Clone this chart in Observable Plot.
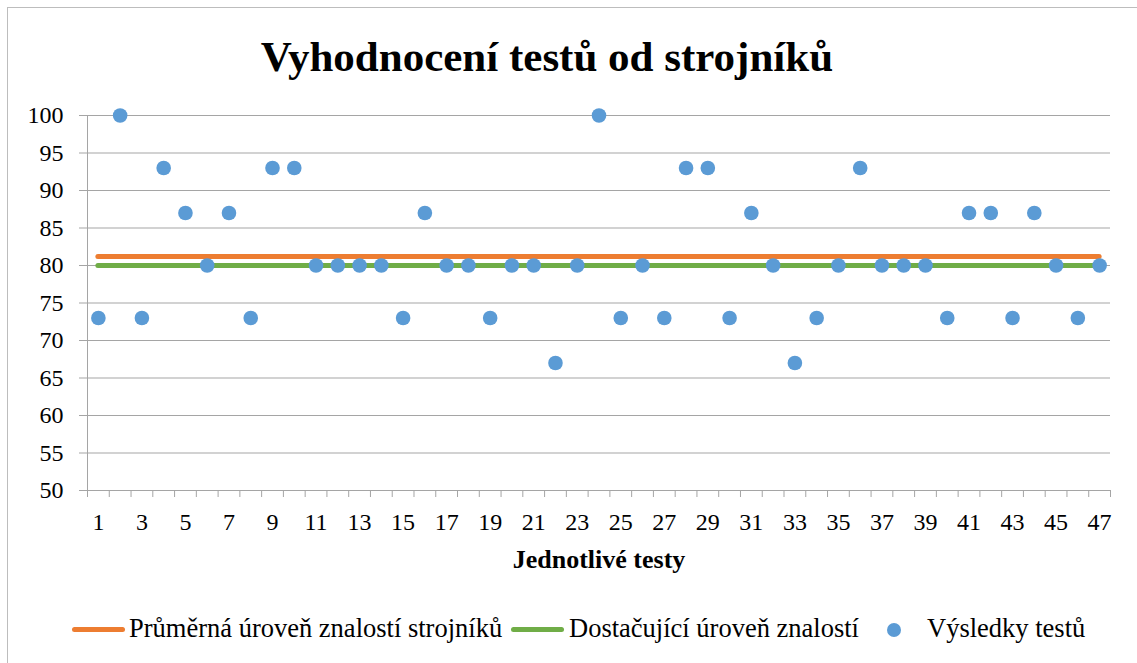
<!DOCTYPE html>
<html>
<head>
<meta charset="utf-8">
<script src="https://cdn.jsdelivr.net/npm/d3@7"></script>
<script src="https://cdn.jsdelivr.net/npm/@observablehq/plot@0.6"></script>
<style>
  html, body { margin: 0; padding: 0; background: #fff; }
  body { font-family: "Liberation Serif", "Times New Roman", serif; color: #000; }
  #wrap { position: relative; width: 1137px; height: 663px; overflow: hidden; }
  #frame { position: absolute; left: 7px; top: 7px; width: 1300px; height: 800px;
           border-left: 1px solid #bdbdbd; border-top: 1px solid #bdbdbd; pointer-events: none; }
  #title { position: relative; height: 95px; box-sizing: border-box; padding-top: 33px; width: 1094px;
           text-align: center; font-weight: bold; font-size: 43px; line-height: 48px; }
  #chart { position: relative; height: 485px; }
  #chart svg { display: block; }
  #chart g[aria-label="x-axis label"] text { font-weight: bold; font-size: 26px; }
  #legend { position: relative; height: 83px; font-size: 26.5px; line-height: 30px; }
  .sw { position: absolute; height: 5px; border-radius: 3px; top: 47px; width: 53px; }
  .dot { position: absolute; width: 14px; height: 14px; border-radius: 50%; top: 43px; }
  .lt { position: absolute; top: 33px; white-space: nowrap; }
</style>
</head>
<body>
<div id="wrap">
  <div id="frame"></div>
  <div id="title"></div>
  <div id="chart"></div>
  <div id="legend"></div>
</div>
<script>
// ---- data ----
const chartTitle = "Vyhodnocení testů od strojníků";
const xAxisTitle = "Jednotlivé testy";
const tests = [1,2,3,4,5,6,7,8,9,10,11,12,13,14,15,16,17,18,19,20,21,22,23,24,25,26,27,28,29,30,31,32,33,34,35,36,37,38,39,40,41,42,43,44,45,46,47];
const scores = [73,100,73,93,87,80,87,73,93,93,
                80,80,80,80,73,87,80,80,73,80,
                80,67,80,100,73,80,73,93,93,73,
                87,80,67,73,80,93,80,80,80,73,
                87,87,73,87,80,73,80];
const averageLevel = 81.2;     // Průměrná úroveň znalostí strojníků
const sufficientLevel = 80;    // Dostačující úroveň znalostí
const yTicks = [50,55,60,65,70,75,80,85,90,95,100];
const xTickLabels = [1,3,5,7,9,11,13,15,17,19,21,23,25,27,29,31,33,35,37,39,41,43,45,47];
const seriesNames = ["Průměrná úroveň znalostí strojníků", "Dostačující úroveň znalostí", "Výsledky testů"];
const seriesColors = ["#ED7D31", "#70AD47", "#5B9BD5"];

// ---- drawing ----
const grey = "#a5a5a5";
const points = tests.map((t, i) => ({test: t, score: scores[i]}));
const boundaries = tests.map(t => t - 0.5).concat([tests[tests.length - 1] + 0.5]);

document.getElementById("title").textContent = chartTitle;

const chart = Plot.plot({
  width: 1137,
  height: 485,
  marginTop: 20,
  marginRight: 27,
  marginBottom: 90,
  marginLeft: 87,
  style: {fontFamily: '"Liberation Serif", "Times New Roman", serif', fontSize: "24px", color: "#000", background: "transparent", overflow: "visible"},
  x: {type: "linear", domain: [boundaries[0], boundaries[boundaries.length - 1]]},
  y: {domain: [yTicks[0], yTicks[yTicks.length - 1]]},
  marks: [
    Plot.gridY(yTicks, {stroke: grey, strokeOpacity: 1}),
    Plot.ruleX([boundaries[0]], {stroke: grey}),
    Plot.axisY(yTicks, {tickSize: 8, tickPadding: 16, stroke: grey, strokeOpacity: 1, label: null, fontSize: 24, fill: "#000"}),
    Plot.axisX(boundaries, {tickSize: 7, tickFormat: () => "", stroke: grey, strokeOpacity: 1, label: null}),
    Plot.axisX(xTickLabels, {tickSize: 0, tickPadding: 22, fontSize: 24, fill: "#000",
      label: xAxisTitle, labelAnchor: "center", labelArrow: "none", labelOffset: 77}),
    Plot.ruleY([averageLevel], {x1: tests[0], x2: tests[tests.length - 1], stroke: seriesColors[0], strokeWidth: 5, strokeLinecap: "round"}),
    Plot.ruleY([sufficientLevel], {x1: tests[0], x2: tests[tests.length - 1], stroke: seriesColors[1], strokeWidth: 5, strokeLinecap: "round"}),
    Plot.dot(points, {x: "test", y: "score", r: 7.3, fill: seriesColors[2], stroke: null})
  ]
});
document.getElementById("chart").appendChild(chart);

// ---- legend ----
const legend = document.getElementById("legend");
const legendLayout = [
  {kind: "line", mark: 72, text: 129},
  {kind: "line", mark: 511, text: 569},
  {kind: "dot", mark: 887, text: 927}
];
legendLayout.forEach((item, i) => {
  const m = document.createElement("span");
  m.className = item.kind === "line" ? "sw" : "dot";
  m.style.left = item.mark + "px";
  m.style.background = seriesColors[i];
  legend.appendChild(m);
  const t = document.createElement("span");
  t.className = "lt";
  t.style.left = item.text + "px";
  t.textContent = seriesNames[i];
  legend.appendChild(t);
});
</script>
</body>
</html>
